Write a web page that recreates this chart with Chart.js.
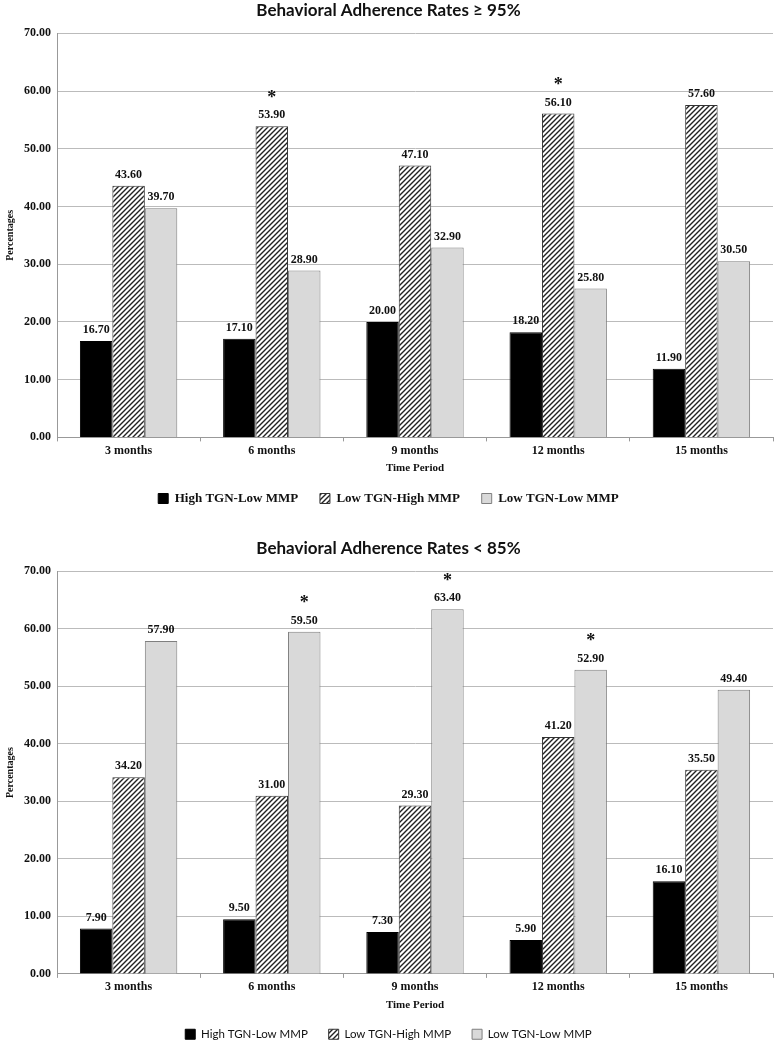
<!DOCTYPE html>
<html>
<head>
<meta charset="utf-8">
<script src="https://cdn.jsdelivr.net/npm/chart.js@4"></script>
<style>
  body { margin: 0; background: #fff; overflow: hidden; }
  .box { position: relative; width: 777px; height: 522px; }
</style>
</head>
<body>
<div class="box"><canvas id="graficoAlta"></canvas></div>
<div class="box"><canvas id="graficoBaixa"></canvas></div>
<script>
// dados
const periodos = ["3 months", "6 months", "9 months", "12 months", "15 months"];
const grupos = ["High TGN-Low MMP", "Low TGN-High MMP", "Low TGN-Low MMP"];

// aderência >= 95%
const altaHighLow = [16.7, 17.1, 20.0, 18.2, 11.9];
const altaLowHigh = [43.6, 53.9, 47.1, 56.1, 57.6];
const altaLowLow = [39.7, 28.9, 32.9, 25.8, 30.5];
const altaSignif = [[], [1], [], [1], []]; // índice do grupo com *

// aderência < 85%
const baixaHighLow = [7.9, 9.5, 7.3, 5.9, 16.1];
const baixaLowHigh = [34.2, 31.0, 29.3, 41.2, 35.5];
const baixaLowLow = [57.9, 59.5, 63.4, 52.9, 49.4];
const baixaSignif = [[], [2], [2], [2], []];

const yTicks = [0, 10, 20, 30, 40, 50, 60, 70];

function hachura() {
    const c = document.createElement("canvas");
    c.width = 5; c.height = 5;
    const g = c.getContext("2d");
    g.fillStyle = "#fff";
    g.fillRect(0, 0, 5, 5);
    g.strokeStyle = "#222";
    g.lineWidth = 1.4;
    g.beginPath();
    g.moveTo(-1, 6); g.lineTo(6, -1);
    g.moveTo(-1, 1); g.lineTo(1, -1);
    g.moveTo(4, 6); g.lineTo(6, 4);
    g.stroke();
    return g.createPattern(c, "repeat");
}

const rotulos = {
    id: "rotulos",
    afterDatasetsDraw(chart, args, opts) {
        const ctx = chart.ctx;
        ctx.save();
        ctx.fillStyle = "#111";
        ctx.textAlign = "center";
        ctx.textBaseline = "bottom";
        chart.data.datasets.forEach((ds, i) => {
            chart.getDatasetMeta(i).data.forEach((bar, j) => {
                ctx.font = "bold 12px 'Liberation Serif'";
                ctx.fillText(ds.data[j].toFixed(2), bar.x, bar.y - 5);
                if (opts.signif[j].includes(i)) {
                    ctx.font = "bold 18px 'Liberation Serif'";
                    ctx.fillText("*", bar.x, bar.y - 19);
                }
            });
        });
        ctx.restore();
    }
};

function gerarGrafico(id, titulo, valores, signif, fonteLegenda, padTopo, padBase) {
    const ctx = document.getElementById(id).getContext("2d");
    return new Chart(ctx, {
        type: "bar",
        data: {
            labels: periodos,
            datasets: [
                { label: grupos[0], data: valores[0], backgroundColor: "#000", borderColor: "#000", borderWidth: 1 },
                { label: grupos[1], data: valores[1], backgroundColor: hachura(), borderColor: "#333", borderWidth: 1 },
                { label: grupos[2], data: valores[2], backgroundColor: "#d9d9d9", borderColor: "#7f7f7f", borderWidth: 1 }
            ]
        },
        plugins: [rotulos],
        options: {
            responsive: true,
            maintainAspectRatio: false,
            animation: false,
            layout: { padding: { left: 4, right: 4, top: padTopo, bottom: padBase } },
            categoryPercentage: 0.68,
            barPercentage: 1.0,
            plugins: {
                rotulos: { signif: signif },
                tooltip: { enabled: false },
                title: {
                    display: true,
                    text: titulo,
                    color: "#111",
                    font: { family: "Lato", size: 17, weight: "bold" },
                    padding: { top: 0, bottom: 13 }
                },
                legend: {
                    position: "bottom",
                    labels: {
                        color: "#111",
                        boxWidth: 10,
                        boxHeight: 10,
                        padding: 12,
                        font: fonteLegenda,
                        generateLabels(chart) {
                            const itens = Chart.defaults.plugins.legend.labels.generateLabels(chart);
                            itens.forEach((it, i) => { if (i < itens.length - 1) it.text += "   "; });
                            return itens;
                        }
                    }
                }
            },
            scales: {
                x: {
                    grid: { display: true, drawOnChartArea: false, offset: true, tickLength: 4, color: "#999" },
                    border: { color: "#999" },
                    ticks: { color: "#111", padding: 2, font: { family: "Liberation Serif", size: 12, weight: "bold" } },
                    title: {
                        display: true,
                        text: "Time Period",
                        color: "#111",
                        font: { family: "Liberation Serif", size: 11, weight: "bold" },
                        padding: { top: 2, bottom: 5 }
                    }
                },
                y: {
                    min: 0,
                    max: 70,
                    afterBuildTicks: (axis) => { axis.ticks = yTicks.map(v => ({ value: v })); },
                    grid: { color: "#bbb", drawTicks: false },
                    border: { color: "#999" },
                    ticks: {
                        color: "#111",
                        padding: 6,
                        font: { family: "Liberation Serif", size: 12, weight: "bold" },
                        callback: (v) => v.toFixed(2)
                    },
                    title: {
                        display: true,
                        text: "Percentages",
                        color: "#111",
                        font: { family: "Liberation Serif", size: 10, weight: "bold" },
                        padding: { top: 0, bottom: 2 }
                    }
                }
            }
        }
    });
}

gerarGrafico("graficoAlta", "Behavioral Adherence Rates \u2265 95%",
    [altaHighLow, altaLowHigh, altaLowLow], altaSignif,
    { family: "Liberation Serif", size: 13, weight: "bold" }, 0, 7);

gerarGrafico("graficoBaixa", "Behavioral Adherence Rates < 85%",
    [baixaHighLow, baixaLowHigh, baixaLowLow], baixaSignif,
    { family: "Lato", size: 11.5 }, 16, -6);
</script>
</body>
</html>
